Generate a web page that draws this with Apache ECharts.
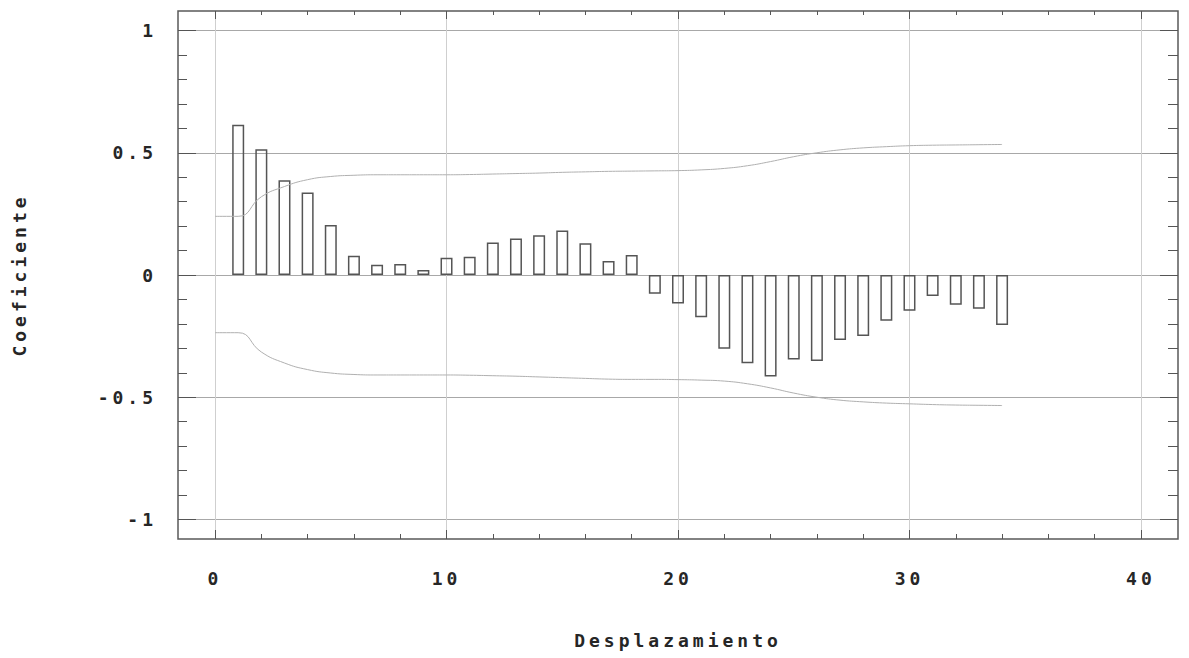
<!DOCTYPE html>
<html>
<head>
<meta charset="utf-8">
<script src="https://cdn.jsdelivr.net/npm/echarts@6/dist/echarts.min.js"></script>
<style>
  html, body { margin: 0; padding: 0; background: #ffffff; }
  #main { width: 1189px; height: 658px; }
  #main text { letter-spacing: 4px; }
</style>
</head>
<body>
<div id="main"></div>
<script>
// ---- data ----
const lags = [1,2,3,4,5,6,7,8,9,10,11,12,13,14,15,16,17,18,19,20,21,22,23,24,25,26,27,28,29,30,31,32,33,34];
const acf = [0.615,0.514,0.388,0.337,0.205,0.079,0.042,0.045,0.020,0.071,0.075,0.133,0.149,0.163,0.182,0.130,0.057,0.082,
             -0.077,-0.117,-0.173,-0.302,-0.361,-0.415,-0.346,-0.352,-0.266,-0.250,-0.187,-0.146,-0.086,-0.122,-0.138,-0.205];
const bandLags = [0,1,2,3,4,5,6,7,8,9,10,11,12,13,14,15,16,17,18,19,20,21,22,23,24,25,26,27,28,29,30,31,32,33,34];
const upperLimit = [0.24,0.24,0.32,0.362,0.39,0.403,0.408,0.41,0.41,0.41,0.41,0.411,0.413,0.415,0.417,0.42,0.422,0.424,0.425,0.426,0.427,
                    0.430,0.436,0.447,0.464,0.484,0.500,0.512,0.520,0.525,0.529,0.531,0.532,0.533,0.534];
const lowerLimit = [-0.236,-0.236,-0.315,-0.36,-0.387,-0.401,-0.407,-0.409,-0.409,-0.409,-0.409,-0.41,-0.412,-0.414,-0.417,-0.42,-0.423,-0.426,-0.427,-0.427,-0.428,
                    -0.430,-0.434,-0.445,-0.462,-0.483,-0.500,-0.512,-0.519,-0.524,-0.527,-0.530,-0.532,-0.533,-0.534];
const xMajorTicks = [0,10,20,30,40];
const xMinorTicks = [2,4,6,8,12,14,16,18,22,24,26,28,32,34,36,38];
const yMajorTicks = [-1,-0.5,0,0.5,1];
const yMinorTicks = [-0.9,-0.8,-0.7,-0.6,-0.4,-0.3,-0.2,-0.1,0.1,0.2,0.3,0.4,0.6,0.7,0.8,0.9];
const xTitle = 'Desplazamiento';
const yTitle = 'Coeficiente';

// ---- chart ----
const FONT = '"DejaVu Sans Mono", monospace';
const TXT = '#262626';
const TICK = '#555555';
const FS = 18;
const X_MIN = -1.6, X_MAX = 41.6, Y_MIN = -1.08, Y_MAX = 1.08;

function xAx(pos, ticks, len, opts) {
  return Object.assign({
    type: 'value', position: pos, min: X_MIN, max: X_MAX,
    axisLine: { show: false, onZero: false },
    axisTick: { show: true, inside: true, length: len, customValues: ticks, lineStyle: { color: TICK, width: 1 } },
    axisLabel: { show: false },
    splitLine: { show: false }
  }, opts || {});
}
function yAx(pos, ticks, len, opts) {
  return Object.assign({
    type: 'value', position: pos, min: Y_MIN, max: Y_MAX,
    axisLine: { show: false, onZero: false },
    axisTick: { show: true, inside: true, length: len, customValues: ticks, lineStyle: { color: TICK, width: 1 } },
    axisLabel: { show: false },
    splitLine: { show: false }
  }, opts || {});
}

const chart = echarts.init(document.getElementById('main'), null, { renderer: 'svg' });
chart.setOption({
  animation: false,
  backgroundColor: '#ffffff',
  grid: { left: 178, right: 11, top: 11, bottom: 119, show: true, borderColor: '#5a5a5a', borderWidth: 1.5, backgroundColor: 'transparent' },
  xAxis: [
    xAx('bottom', xMajorTicks, 9, {
      name: xTitle, nameLocation: 'middle', nameGap: 92,
      nameTextStyle: { fontFamily: FONT, fontWeight: 'bold', fontSize: FS, color: TXT },
      axisLabel: { show: true, customValues: xMajorTicks, margin: 30, fontFamily: FONT, fontWeight: 'bold', fontSize: FS, color: TXT },
      splitLine: { show: true, lineStyle: { color: '#cfcfcf', width: 1 } }
    }),
    xAx('bottom', xMinorTicks, 5),
    xAx('top', xMajorTicks, 8),
    xAx('top', xMinorTicks, 4)
  ],
  yAxis: [
    yAx('left', yMajorTicks, 18, {
      name: yTitle, nameLocation: 'middle', nameGap: 150,
      nameTextStyle: { fontFamily: FONT, fontWeight: 'bold', fontSize: FS, color: TXT },
      axisLabel: { show: true, customValues: yMajorTicks, margin: 21, fontFamily: FONT, fontWeight: 'bold', fontSize: FS, color: TXT },
      splitLine: { show: true, lineStyle: { color: '#a8a8a8', width: 1 } }
    }),
    yAx('left', yMinorTicks, 9),
    yAx('right', yMajorTicks, 18),
    yAx('right', yMinorTicks, 10)
  ],
  series: [
    {
      type: 'bar', xAxisIndex: 0, yAxisIndex: 0, barWidth: 12,
      data: lags.map((l, i) => [l, acf[i]]),
      itemStyle: { color: 'rgba(255,255,255,0)', borderColor: '#555555', borderWidth: 1.5 },
      silent: true
    },
    {
      type: 'line', xAxisIndex: 0, yAxisIndex: 0, showSymbol: false, symbol: 'none',
      smooth: 0.5,
      data: bandLags.map((l, i) => [l, upperLimit[i]]),
      lineStyle: { color: '#b0b0b0', width: 1 }, silent: true
    },
    {
      type: 'line', xAxisIndex: 0, yAxisIndex: 0, showSymbol: false, symbol: 'none',
      smooth: 0.5,
      data: bandLags.map((l, i) => [l, lowerLimit[i]]),
      lineStyle: { color: '#b0b0b0', width: 1 }, silent: true
    }
  ]
});
</script>
</body>
</html>
